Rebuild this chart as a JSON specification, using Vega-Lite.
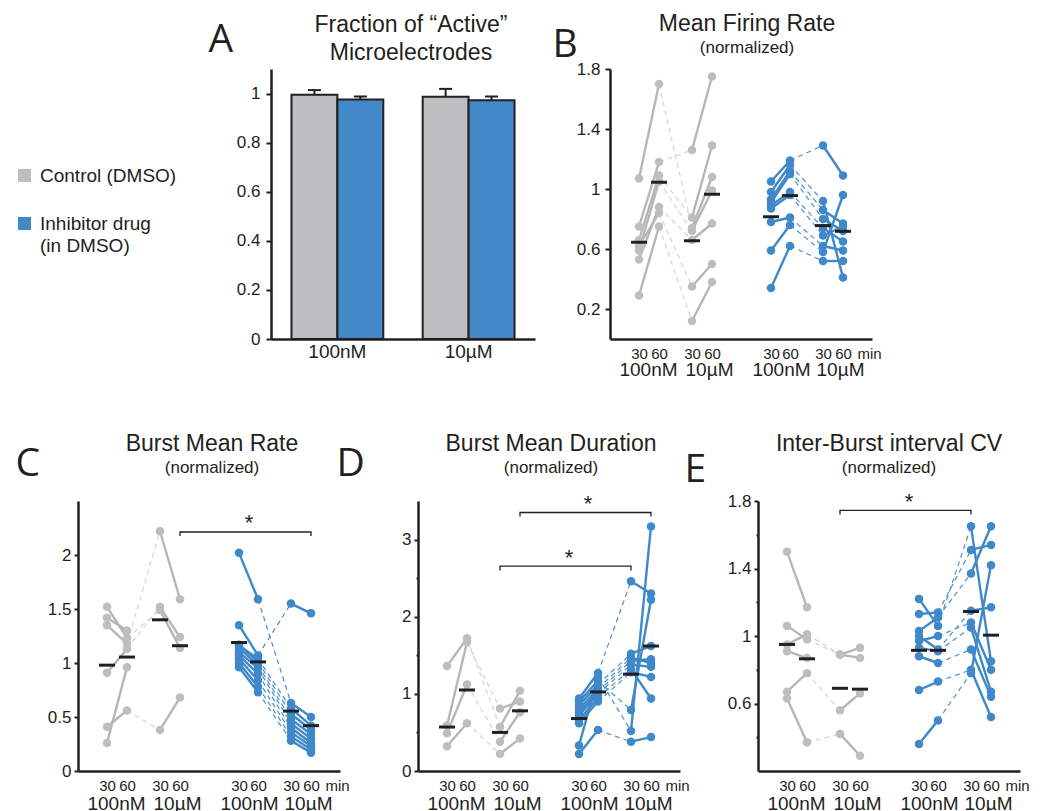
{
 "$schema": "https://vega.github.io/schema/vega-lite/v6.json",
 "background": "white",
 "padding": {"left": 15, "top": 13, "right": 5, "bottom": 0},
 "spacing": 54,
 "config": {
  "view": {"stroke": null},
  "font": "Liberation Sans",
  "style": {"guide-label": {"lineHeight": 22}},
  "axis": {"domainColor": "#231f20", "domainWidth": 2.5, "tickColor": "#231f20", "tickWidth": 2, "labelColor": "#231f20", "labelFont": "Liberation Sans", "grid": false},
  "title": {"font": "Liberation Sans", "fontSize": 23, "fontWeight": "normal", "color": "#231f20", "subtitleFont": "Liberation Sans", "subtitleFontSize": 17, "subtitleColor": "#231f20", "subtitlePadding": 4, "anchor": "middle", "frame": "group"}
 },
 "datasets": {
  "slots": [
   {"k": "c1", "x": 29, "conc": "100nM"}, {"k": "c2", "x": 49, "conc": "100nM"},
   {"k": "c3", "x": 82, "conc": "10µM"}, {"k": "c4", "x": 102, "conc": "10µM"},
   {"k": "i1", "x": 161, "conc": "100nM"}, {"k": "i2", "x": 180, "conc": "100nM"},
   {"k": "i3", "x": 213, "conc": "10µM"}, {"k": "i4", "x": 233, "conc": "10µM"}
  ],
  "units": [
   {"p": "B", "g": "C", "u": 1, "c1": 1.07, "c2": 1.70, "c3": 0.74, "c4": 1.08},
   {"p": "B", "g": "C", "u": 2, "c1": 0.75, "c2": 1.18, "c3": 1.26, "c4": 1.75},
   {"p": "B", "g": "C", "u": 3, "c1": 0.66, "c2": 1.09, "c3": 0.81, "c4": 1.29},
   {"p": "B", "g": "C", "u": 4, "c1": 0.59, "c2": 1.05, "c3": 0.72, "c4": 0.99},
   {"p": "B", "g": "C", "u": 5, "c1": 0.53, "c2": 0.88, "c3": 0.66, "c4": 0.77},
   {"p": "B", "g": "C", "u": 6, "c1": 0.62, "c2": 0.84, "c3": 0.35, "c4": 0.50},
   {"p": "B", "g": "C", "u": 7, "c1": 0.29, "c2": 0.75, "c3": 0.12, "c4": 0.38},
   {"p": "B", "g": "I", "u": 1, "i1": 1.05, "i2": 1.19, "i3": 1.29, "i4": 1.09},
   {"p": "B", "g": "I", "u": 2, "i1": 0.98, "i2": 1.16, "i3": 0.92, "i4": 0.41},
   {"p": "B", "g": "I", "u": 3, "i1": 0.93, "i2": 1.12, "i3": 0.86, "i4": 0.77},
   {"p": "B", "g": "I", "u": 4, "i1": 0.91, "i2": 1.10, "i3": 0.80, "i4": 0.72},
   {"p": "B", "g": "I", "u": 5, "i1": 0.89, "i2": 0.98, "i3": 0.74, "i4": 0.65},
   {"p": "B", "g": "I", "u": 6, "i1": 0.87, "i2": 0.96, "i3": 0.69, "i4": 0.75},
   {"p": "B", "g": "I", "u": 7, "i1": 0.78, "i2": 0.81, "i3": 0.62, "i4": 0.59},
   {"p": "B", "g": "I", "u": 8, "i1": 0.59, "i2": 0.76, "i3": 0.58, "i4": 0.96},
   {"p": "B", "g": "I", "u": 9, "i1": 0.34, "i2": 0.62, "i3": 0.52, "i4": 0.52},
   {"p": "C", "g": "C", "u": 1, "c1": 1.52, "c2": 1.23, "c3": 1.49, "c4": 1.14},
   {"p": "C", "g": "C", "u": 2, "c1": 1.42, "c2": 1.30},
   {"p": "C", "g": "C", "u": 3, "c1": 1.35, "c2": 1.18, "c3": 2.22, "c4": 1.59},
   {"p": "C", "g": "C", "u": 4, "c1": 0.91, "c2": 1.13, "c3": 1.52, "c4": 1.24},
   {"p": "C", "g": "C", "u": 5, "c1": 0.26, "c2": 0.96},
   {"p": "C", "g": "C", "u": 6, "c1": 0.41, "c2": 0.56, "c3": 0.38, "c4": 0.68},
   {"p": "C", "g": "I", "u": 1, "i1": 2.02, "i2": 1.59, "i3": 0.63, "i4": 0.50},
   {"p": "C", "g": "I", "u": 2, "i1": 1.35, "i2": 1.07, "i3": 1.55, "i4": 1.46},
   {"p": "C", "g": "I", "u": 3, "i1": 1.16, "i2": 1.04, "i3": 0.58, "i4": 0.42},
   {"p": "C", "g": "I", "u": 4, "i1": 1.17, "i2": 1.01, "i3": 0.53, "i4": 0.38},
   {"p": "C", "g": "I", "u": 5, "i1": 1.14, "i2": 0.98, "i3": 0.48, "i4": 0.34},
   {"p": "C", "g": "I", "u": 6, "i1": 1.10, "i2": 0.95, "i3": 0.44, "i4": 0.30},
   {"p": "C", "g": "I", "u": 7, "i1": 1.07, "i2": 0.90, "i3": 0.40, "i4": 0.26},
   {"p": "C", "g": "I", "u": 8, "i1": 1.04, "i2": 0.84, "i3": 0.36, "i4": 0.23},
   {"p": "C", "g": "I", "u": 9, "i1": 1.00, "i2": 0.78, "i3": 0.32, "i4": 0.20},
   {"p": "C", "g": "I", "u": 10, "i1": 0.96, "i2": 0.73, "i3": 0.28, "i4": 0.17},
   {"p": "D", "g": "C", "u": 1, "c1": 1.36, "c2": 1.72, "c3": 0.57, "c4": 1.04},
   {"p": "D", "g": "C", "u": 2, "c1": 0.59, "c2": 1.67, "c3": 0.81, "c4": 0.90},
   {"p": "D", "g": "C", "u": 3, "c1": 0.49, "c2": 1.12, "c3": 0.38, "c4": 0.76},
   {"p": "D", "g": "C", "u": 4, "c1": 0.32, "c2": 0.62, "c3": 0.22, "c4": 0.42},
   {"p": "D", "g": "I", "u": 1, "i1": 0.94, "i2": 1.27, "i3": 2.46, "i4": 2.30},
   {"p": "D", "g": "I", "u": 2, "i1": 0.33, "i2": 1.22, "i3": 0.52, "i4": 3.17},
   {"p": "D", "g": "I", "u": 3, "i1": 0.90, "i2": 1.17, "i3": 0.79, "i4": 2.22},
   {"p": "D", "g": "I", "u": 4, "i1": 0.85, "i2": 1.12, "i3": 1.52, "i4": 1.62},
   {"p": "D", "g": "I", "u": 5, "i1": 0.80, "i2": 1.07, "i3": 1.47, "i4": 1.40},
   {"p": "D", "g": "I", "u": 6, "i1": 0.76, "i2": 1.03, "i3": 1.43, "i4": 1.45},
   {"p": "D", "g": "I", "u": 7, "i1": 0.72, "i2": 1.00, "i3": 1.38, "i4": 1.35},
   {"p": "D", "g": "I", "u": 8, "i1": 0.66, "i2": 0.95, "i3": 1.32, "i4": 0.94},
   {"p": "D", "g": "I", "u": 9, "i1": 0.62, "i2": 0.90, "i3": 1.28, "i4": 1.22},
   {"p": "D", "g": "I", "u": 10, "i1": 0.22, "i2": 0.53, "i3": 0.38, "i4": 0.44},
   {"p": "E", "g": "C", "u": 1, "c1": 1.50, "c2": 1.17},
   {"p": "E", "g": "C", "u": 2, "c1": 1.06, "c2": 0.98, "c3": 0.89, "c4": 0.87},
   {"p": "E", "g": "C", "u": 3, "c1": 0.95, "c2": 1.01, "c3": 0.89, "c4": 0.93},
   {"p": "E", "g": "C", "u": 4, "c1": 0.91, "c2": 0.87},
   {"p": "E", "g": "C", "u": 5, "c1": 0.67, "c2": 0.78, "c3": 0.56, "c4": 0.66},
   {"p": "E", "g": "C", "u": 6, "c1": 0.63, "c2": 0.37, "c3": 0.42, "c4": 0.29},
   {"p": "E", "g": "I", "u": 1, "i1": 1.22, "i2": 1.06, "i3": 1.65, "i4": 0.85},
   {"p": "E", "g": "I", "u": 2, "i1": 1.13, "i2": 1.14, "i3": 1.51, "i4": 1.54},
   {"p": "E", "g": "I", "u": 3, "i1": 1.03, "i2": 1.11, "i3": 1.37, "i4": 1.65},
   {"p": "E", "g": "I", "u": 4, "i1": 1.00, "i2": 0.92, "i3": 1.15, "i4": 1.17},
   {"p": "E", "g": "I", "u": 5, "i1": 0.97, "i2": 1.00, "i3": 1.08, "i4": 0.80},
   {"p": "E", "g": "I", "u": 6, "i1": 0.93, "i2": 0.91, "i3": 1.05, "i4": 0.67},
   {"p": "E", "g": "I", "u": 7, "i1": 0.88, "i2": 0.84, "i3": 0.92, "i4": 0.64},
   {"p": "E", "g": "I", "u": 8, "i1": 0.68, "i2": 0.73, "i3": 0.80, "i4": 0.52},
   {"p": "E", "g": "I", "u": 9, "i1": 0.36, "i2": 0.50, "i3": 0.78, "i4": 1.42}
  ],
  "means": [
   {"p": "B", "k": "c1", "v": 0.645}, {"p": "B", "k": "c2", "v": 1.045}, {"p": "B", "k": "c3", "v": 0.655}, {"p": "B", "k": "c4", "v": 0.965},
   {"p": "B", "k": "i1", "v": 0.815}, {"p": "B", "k": "i2", "v": 0.956}, {"p": "B", "k": "i3", "v": 0.756}, {"p": "B", "k": "i4", "v": 0.718},
   {"p": "C", "k": "c1", "v": 0.98}, {"p": "C", "k": "c2", "v": 1.055}, {"p": "C", "k": "c3", "v": 1.40}, {"p": "C", "k": "c4", "v": 1.16},
   {"p": "C", "k": "i1", "v": 1.19}, {"p": "C", "k": "i2", "v": 1.01}, {"p": "C", "k": "i3", "v": 0.555}, {"p": "C", "k": "i4", "v": 0.42},
   {"p": "D", "k": "c1", "v": 0.57}, {"p": "D", "k": "c2", "v": 1.05}, {"p": "D", "k": "c3", "v": 0.50}, {"p": "D", "k": "c4", "v": 0.78},
   {"p": "D", "k": "i1", "v": 0.68}, {"p": "D", "k": "i2", "v": 1.025}, {"p": "D", "k": "i3", "v": 1.255}, {"p": "D", "k": "i4", "v": 1.62},
   {"p": "E", "k": "c1", "v": 0.95}, {"p": "E", "k": "c2", "v": 0.865}, {"p": "E", "k": "c3", "v": 0.69}, {"p": "E", "k": "c4", "v": 0.685},
   {"p": "E", "k": "i1", "v": 0.915}, {"p": "E", "k": "i2", "v": 0.915}, {"p": "E", "k": "i3", "v": 1.145}, {"p": "E", "k": "i4", "v": 1.005}
  ],
  "brackets": [
   {"p": "C", "b": "C1", "i": 0, "x": 102, "v": 2.176}, {"p": "C", "b": "C1", "i": 1, "x": 102, "v": 2.213},
   {"p": "C", "b": "C1", "i": 2, "x": 233, "v": 2.213}, {"p": "C", "b": "C1", "i": 3, "x": 233, "v": 2.176},
   {"p": "D", "b": "D1", "i": 0, "x": 102, "v": 3.30}, {"p": "D", "b": "D1", "i": 1, "x": 102, "v": 3.351},
   {"p": "D", "b": "D1", "i": 2, "x": 233, "v": 3.351}, {"p": "D", "b": "D1", "i": 3, "x": 233, "v": 3.30},
   {"p": "D", "b": "D2", "i": 0, "x": 82, "v": 2.60}, {"p": "D", "b": "D2", "i": 1, "x": 82, "v": 2.655},
   {"p": "D", "b": "D2", "i": 2, "x": 213, "v": 2.655}, {"p": "D", "b": "D2", "i": 3, "x": 213, "v": 2.60},
   {"p": "E", "b": "E1", "i": 0, "x": 82, "v": 1.72}, {"p": "E", "b": "E1", "i": 1, "x": 82, "v": 1.745},
   {"p": "E", "b": "E1", "i": 2, "x": 213, "v": 1.745}, {"p": "E", "b": "E1", "i": 3, "x": 213, "v": 1.72}
  ],
  "stars": [
   {"p": "C", "x": 171, "v": 2.227, "s": "*"},
   {"p": "D", "x": 170, "v": 3.37, "s": "*"},
   {"p": "D", "x": 151, "v": 2.675, "s": "*"},
   {"p": "E", "x": 151, "v": 1.754, "s": "*"}
  ],
  "bars": [
   {"conc": "100nM", "grp": "Control (DMSO)", "v": 0.995, "hi": 1.014},
   {"conc": "100nM", "grp": "Inhibitor drug (in DMSO)", "v": 0.976, "hi": 0.988},
   {"conc": "10µM", "grp": "Control (DMSO)", "v": 0.987, "hi": 1.019},
   {"conc": "10µM", "grp": "Inhibitor drug (in DMSO)", "v": 0.973, "hi": 0.988}
  ]
 },
 "vconcat": [
  {
   "bounds": "flush",
   "spacing": 75,
   "hconcat": [
    {"width": 118, "height": 270, "data": {"values": [{"a": 1}]}, "mark": {"type": "point", "opacity": 0}, "encoding": {}},
    {
     "width": 264, "height": 270,
     "data": {"name": "bars"},
     "title": {"text": ["Fraction of “Active”", "Microelectrodes"], "lineHeight": 28, "offset": -45, "dx": 8},
     "encoding": {
      "x": {"field": "conc", "type": "nominal", "sort": ["100nM", "10µM"], "scale": {"paddingInner": 0.3, "paddingOuter": 0.156},
            "axis": {"title": null, "labelAngle": 0, "ticks": false, "tickSize": 0, "labelFontSize": 19, "labelPadding": 3}},
      "xOffset": {"field": "grp", "type": "nominal", "sort": ["Control (DMSO)", "Inhibitor drug (in DMSO)"], "scale": {"paddingInner": 0, "paddingOuter": 0}}
     },
     "layer": [
      {
       "mark": {"type": "bar", "stroke": "#231f20", "strokeWidth": 2},
       "encoding": {
        "y": {"field": "v", "type": "quantitative", "scale": {"domain": [0, 1.1], "nice": false, "zero": false},
              "axis": {"title": "A", "titleAngle": 0, "titleAlign": "left", "titleBaseline": "alphabetic", "titleX": -63, "titleY": -18,
                       "titleFont": "Open Sans", "titleFontSize": 39, "titleFontWeight": "normal", "titleColor": "#231f20",
                       "values": [0, 0.2, 0.4, 0.6, 0.8, 1], "labelExpr": "format(datum.value, '~g')", "tickSize": 5, "labelPadding": 6, "labelFontSize": 17}},
        "color": {"field": "grp", "type": "nominal", "sort": ["Control (DMSO)", "Inhibitor drug (in DMSO)"],
                  "scale": {"domain": ["Control (DMSO)", "Inhibitor drug (in DMSO)"], "range": ["#bcbec0", "#4389c8"]},
                  "legend": {"title": null, "orient": "none", "legendX": -63, "legendY": 97, "padding": 0, "offset": 0,
                             "symbolType": "square", "symbolSize": 170, "symbolStrokeWidth": 0, "symbolOpacity": 1,
                             "labelFontSize": 19, "labelFont": "Liberation Sans", "labelColor": "#231f20", "labelLimit": 300, "labelOffset": 6, "rowPadding": 28,
                             "labelExpr": "datum.label == 'Inhibitor drug (in DMSO)' ? ['Inhibitor drug', '(in DMSO)'] : datum.label"}}
       }
      },
      {
       "mark": {"type": "rule", "strokeWidth": 2, "color": "#231f20"},
       "encoding": {"y": {"field": "v", "type": "quantitative"}, "y2": {"field": "hi"}}
      },
      {
       "mark": {"type": "tick", "orient": "horizontal", "size": 13, "thickness": 2, "color": "#231f20", "opacity": 1},
       "encoding": {"y": {"field": "hi", "type": "quantitative"}}
      }
     ]
    },
    {
     "width": 262, "height": 270,
     "title": {"text": "Mean Firing Rate", "subtitle": "(normalized)", "offset": -31, "dx": 6},
     "encoding": {
      "x": {"field": "x", "type": "quantitative", "scale": {"domain": [0, 262], "nice": false, "zero": false},
            "axis": {"title": null, "values": [29, 38, 49, 82, 99, 102, 161, 171, 180, 213, 230, 233, 259],
                     "labelExpr": "datum.value == 259 ? 'min' : (datum.value == 38 || datum.value == 171) ? '100nM' : (datum.value == 99 || datum.value == 230) ? '10µM' : (datum.value == 29 || datum.value == 82 || datum.value == 161 || datum.value == 213) ? '30' : '60'",
                     "ticks": false, "tickSize": 0, "labelOverlap": false, "labelFlush": false, "labelBound": false,
                     "labelFontSize": {"condition": {"test": "datum.value == 38 || datum.value == 171 || datum.value == 99 || datum.value == 230", "value": 19}, "value": 15},
                     "labelPadding": {"condition": {"test": "datum.value == 38 || datum.value == 171 || datum.value == 99 || datum.value == 230", "value": 21}, "value": 7}}},
      "y": {"field": "v", "type": "quantitative", "scale": {"domain": [0, 1.8], "nice": false, "zero": false},
            "axis": {"title": "B", "titleAngle": 0, "titleAlign": "left", "titleBaseline": "alphabetic", "titleX": -58, "titleY": -13,
                     "titleFont": "Open Sans", "titleFontSize": 39, "titleFontWeight": "normal", "titleColor": "#231f20",
                     "values": [0.2, 0.6, 1, 1.4, 1.8], "labelExpr": "format(datum.value, '~g')", "tickSize": 5, "labelPadding": 5, "labelFontSize": 17}}
     },
     "layer": [
      {"data": {"name": "units"},
       "transform": [{"filter": "datum.p == 'B'"}, {"fold": ["c1", "c2", "c3", "c4", "i1", "i2", "i3", "i4"], "as": ["k", "v"]}, {"filter": "isValid(datum.v)"},
                     {"filter": "indexof(['c2','c3','i2','i3'], datum.k) >= 0"}, {"lookup": "k", "from": {"data": {"name": "slots"}, "key": "k", "fields": ["x", "conc"]}}],
       "mark": {"type": "line", "strokeWidth": 1.2, "strokeDash": [5, 4]},
       "encoding": {"detail": [{"field": "g", "type": "nominal"}, {"field": "u", "type": "nominal"}],
                    "color": {"condition": {"test": "datum.g == 'C'", "value": "#d3d4d6"}, "value": "#4a8fcf"}}},
      {"data": {"name": "units"},
       "transform": [{"filter": "datum.p == 'B'"}, {"fold": ["c1", "c2", "c3", "c4", "i1", "i2", "i3", "i4"], "as": ["k", "v"]}, {"filter": "isValid(datum.v)"},
                     {"lookup": "k", "from": {"data": {"name": "slots"}, "key": "k", "fields": ["x", "conc"]}}],
       "mark": {"type": "line", "strokeWidth": 2.4},
       "encoding": {"detail": [{"field": "g", "type": "nominal"}, {"field": "u", "type": "nominal"}, {"field": "conc", "type": "nominal"}],
                    "color": {"condition": {"test": "datum.g == 'C'", "value": "#b5b6b8"}, "value": "#3f88c9"}}},
      {"data": {"name": "units"},
       "transform": [{"filter": "datum.p == 'B'"}, {"fold": ["c1", "c2", "c3", "c4", "i1", "i2", "i3", "i4"], "as": ["k", "v"]}, {"filter": "isValid(datum.v)"},
                     {"lookup": "k", "from": {"data": {"name": "slots"}, "key": "k", "fields": ["x", "conc"]}}],
       "mark": {"type": "circle", "size": 72, "opacity": 1},
       "encoding": {"color": {"condition": {"test": "datum.g == 'C'", "value": "#bcbec0"}, "value": "#3f88c9"}}},
      {"data": {"name": "means"},
       "transform": [{"filter": "datum.p == 'B'"}, {"lookup": "k", "from": {"data": {"name": "slots"}, "key": "k", "fields": ["x"]}}],
       "mark": {"type": "tick", "orient": "horizontal", "size": 16, "thickness": 3, "color": "#231f20", "opacity": 1}}
     ]
    }
   ]
  },
  {
   "bounds": "flush",
   "spacing": 78,
   "hconcat": [
    {
     "width": 262, "height": 270,
     "title": {"text": "Burst Mean Rate", "subtitle": "(normalized)", "offset": -32, "dx": 3},
     "encoding": {
      "x": {"field": "x", "type": "quantitative", "scale": {"domain": [0, 262], "nice": false, "zero": false},
            "axis": {"title": null, "values": [29, 38, 49, 82, 99, 102, 161, 171, 180, 213, 230, 233, 259],
                     "labelExpr": "datum.value == 259 ? 'min' : (datum.value == 38 || datum.value == 171) ? '100nM' : (datum.value == 99 || datum.value == 230) ? '10µM' : (datum.value == 29 || datum.value == 82 || datum.value == 161 || datum.value == 213) ? '30' : '60'",
                     "ticks": false, "tickSize": 0, "labelOverlap": false, "labelFlush": false, "labelBound": false,
                     "labelFontSize": {"condition": {"test": "datum.value == 38 || datum.value == 171 || datum.value == 99 || datum.value == 230", "value": 19}, "value": 15},
                     "labelPadding": {"condition": {"test": "datum.value == 38 || datum.value == 171 || datum.value == 99 || datum.value == 230", "value": 23}, "value": 7}}},
      "y": {"field": "v", "type": "quantitative", "scale": {"domain": [0, 2.5], "nice": false, "zero": false},
            "axis": {"title": "C", "titleAngle": 0, "titleAlign": "left", "titleBaseline": "alphabetic", "titleX": -63, "titleY": -26,
                     "titleFont": "Open Sans", "titleFontSize": 39, "titleFontWeight": "normal", "titleColor": "#231f20",
                     "values": [0, 0.5, 1, 1.5, 2], "labelExpr": "format(datum.value, '~g')", "tickSize": 4, "labelPadding": 3, "labelFontSize": 17}}
     },
     "layer": [
      {"data": {"name": "units"},
       "transform": [{"filter": "datum.p == 'C'"}, {"fold": ["c1", "c2", "c3", "c4", "i1", "i2", "i3", "i4"], "as": ["k", "v"]}, {"filter": "isValid(datum.v)"},
                     {"filter": "indexof(['c2','c3','i2','i3'], datum.k) >= 0"}, {"lookup": "k", "from": {"data": {"name": "slots"}, "key": "k", "fields": ["x", "conc"]}}],
       "mark": {"type": "line", "strokeWidth": 1.2, "strokeDash": [5, 4]},
       "encoding": {"detail": [{"field": "g", "type": "nominal"}, {"field": "u", "type": "nominal"}],
                    "color": {"condition": {"test": "datum.g == 'C'", "value": "#d3d4d6"}, "value": "#4a8fcf"}}},
      {"data": {"name": "units"},
       "transform": [{"filter": "datum.p == 'C'"}, {"fold": ["c1", "c2", "c3", "c4", "i1", "i2", "i3", "i4"], "as": ["k", "v"]}, {"filter": "isValid(datum.v)"},
                     {"lookup": "k", "from": {"data": {"name": "slots"}, "key": "k", "fields": ["x", "conc"]}}],
       "mark": {"type": "line", "strokeWidth": 2.4},
       "encoding": {"detail": [{"field": "g", "type": "nominal"}, {"field": "u", "type": "nominal"}, {"field": "conc", "type": "nominal"}],
                    "color": {"condition": {"test": "datum.g == 'C'", "value": "#b5b6b8"}, "value": "#3f88c9"}}},
      {"data": {"name": "units"},
       "transform": [{"filter": "datum.p == 'C'"}, {"fold": ["c1", "c2", "c3", "c4", "i1", "i2", "i3", "i4"], "as": ["k", "v"]}, {"filter": "isValid(datum.v)"},
                     {"lookup": "k", "from": {"data": {"name": "slots"}, "key": "k", "fields": ["x", "conc"]}}],
       "mark": {"type": "circle", "size": 72, "opacity": 1},
       "encoding": {"color": {"condition": {"test": "datum.g == 'C'", "value": "#bcbec0"}, "value": "#3f88c9"}}},
      {"data": {"name": "means"},
       "transform": [{"filter": "datum.p == 'C'"}, {"lookup": "k", "from": {"data": {"name": "slots"}, "key": "k", "fields": ["x"]}}],
       "mark": {"type": "tick", "orient": "horizontal", "size": 16, "thickness": 3, "color": "#231f20", "opacity": 1}},
      {"data": {"name": "brackets"}, "transform": [{"filter": "datum.p == 'C'"}],
       "mark": {"type": "line", "strokeWidth": 1.3, "color": "#231f20"},
       "encoding": {"detail": {"field": "b", "type": "nominal"}, "order": {"field": "i", "type": "quantitative"}}},
      {"data": {"name": "stars"}, "transform": [{"filter": "datum.p == 'C'"}],
       "mark": {"type": "text", "fontSize": 22, "baseline": "alphabetic", "align": "center", "color": "#231f20"},
       "encoding": {"text": {"field": "s", "type": "nominal"}}}
     ]
    },
    {
     "width": 262, "height": 270,
     "title": {"text": "Burst Mean Duration", "subtitle": "(normalized)", "offset": -32, "dx": 2},
     "encoding": {
      "x": {"field": "x", "type": "quantitative", "scale": {"domain": [0, 262], "nice": false, "zero": false},
            "axis": {"title": null, "values": [29, 38, 49, 82, 99, 102, 161, 171, 180, 213, 230, 233, 259],
                     "labelExpr": "datum.value == 259 ? 'min' : (datum.value == 38 || datum.value == 171) ? '100nM' : (datum.value == 99 || datum.value == 230) ? '10µM' : (datum.value == 29 || datum.value == 82 || datum.value == 161 || datum.value == 213) ? '30' : '60'",
                     "ticks": false, "tickSize": 0, "labelOverlap": false, "labelFlush": false, "labelBound": false,
                     "labelFontSize": {"condition": {"test": "datum.value == 38 || datum.value == 171 || datum.value == 99 || datum.value == 230", "value": 19}, "value": 15},
                     "labelPadding": {"condition": {"test": "datum.value == 38 || datum.value == 171 || datum.value == 99 || datum.value == 230", "value": 23}, "value": 7}}},
      "y": {"field": "v", "type": "quantitative", "scale": {"domain": [0, 3.5], "nice": false, "zero": false},
            "axis": {"title": "D", "titleAngle": 0, "titleAlign": "left", "titleBaseline": "alphabetic", "titleX": -82, "titleY": -26,
                     "titleFont": "Open Sans", "titleFontSize": 39, "titleFontWeight": "normal", "titleColor": "#231f20",
                     "values": [0, 0.5, 1, 1.5, 2, 2.5, 3], "labelExpr": "datum.value % 1 == 0 ? format(datum.value, '~g') : ''",
                     "tickSize": {"condition": {"test": "datum.value % 1 != 0", "value": 2}, "value": 4}, "labelPadding": 3, "labelFontSize": 17}}
     },
     "layer": [
      {"data": {"name": "units"},
       "transform": [{"filter": "datum.p == 'D'"}, {"fold": ["c1", "c2", "c3", "c4", "i1", "i2", "i3", "i4"], "as": ["k", "v"]}, {"filter": "isValid(datum.v)"},
                     {"filter": "indexof(['c2','c3','i2','i3'], datum.k) >= 0"}, {"lookup": "k", "from": {"data": {"name": "slots"}, "key": "k", "fields": ["x", "conc"]}}],
       "mark": {"type": "line", "strokeWidth": 1.2, "strokeDash": [5, 4]},
       "encoding": {"detail": [{"field": "g", "type": "nominal"}, {"field": "u", "type": "nominal"}],
                    "color": {"condition": {"test": "datum.g == 'C'", "value": "#d3d4d6"}, "value": "#4a8fcf"}}},
      {"data": {"name": "units"},
       "transform": [{"filter": "datum.p == 'D'"}, {"fold": ["c1", "c2", "c3", "c4", "i1", "i2", "i3", "i4"], "as": ["k", "v"]}, {"filter": "isValid(datum.v)"},
                     {"lookup": "k", "from": {"data": {"name": "slots"}, "key": "k", "fields": ["x", "conc"]}}],
       "mark": {"type": "line", "strokeWidth": 2.4},
       "encoding": {"detail": [{"field": "g", "type": "nominal"}, {"field": "u", "type": "nominal"}, {"field": "conc", "type": "nominal"}],
                    "color": {"condition": {"test": "datum.g == 'C'", "value": "#b5b6b8"}, "value": "#3f88c9"}}},
      {"data": {"name": "units"},
       "transform": [{"filter": "datum.p == 'D'"}, {"fold": ["c1", "c2", "c3", "c4", "i1", "i2", "i3", "i4"], "as": ["k", "v"]}, {"filter": "isValid(datum.v)"},
                     {"lookup": "k", "from": {"data": {"name": "slots"}, "key": "k", "fields": ["x", "conc"]}}],
       "mark": {"type": "circle", "size": 72, "opacity": 1},
       "encoding": {"color": {"condition": {"test": "datum.g == 'C'", "value": "#bcbec0"}, "value": "#3f88c9"}}},
      {"data": {"name": "means"},
       "transform": [{"filter": "datum.p == 'D'"}, {"lookup": "k", "from": {"data": {"name": "slots"}, "key": "k", "fields": ["x"]}}],
       "mark": {"type": "tick", "orient": "horizontal", "size": 16, "thickness": 3, "color": "#231f20", "opacity": 1}},
      {"data": {"name": "brackets"}, "transform": [{"filter": "datum.p == 'D'"}],
       "mark": {"type": "line", "strokeWidth": 1.3, "color": "#231f20"},
       "encoding": {"detail": {"field": "b", "type": "nominal"}, "order": {"field": "i", "type": "quantitative"}}},
      {"data": {"name": "stars"}, "transform": [{"filter": "datum.p == 'D'"}],
       "mark": {"type": "text", "fontSize": 22, "baseline": "alphabetic", "align": "center", "color": "#231f20"},
       "encoding": {"text": {"field": "s", "type": "nominal"}}}
     ]
    },
    {
     "width": 262, "height": 270,
     "title": {"text": "Inter-Burst interval CV", "subtitle": "(normalized)", "offset": -26, "dx": 0},
     "encoding": {
      "x": {"field": "x", "type": "quantitative", "scale": {"domain": [0, 262], "nice": false, "zero": false},
            "axis": {"title": null, "values": [29, 38, 49, 82, 99, 102, 161, 171, 180, 213, 230, 233, 259],
                     "labelExpr": "datum.value == 259 ? 'min' : (datum.value == 38 || datum.value == 171) ? '100nM' : (datum.value == 99 || datum.value == 230) ? '10µM' : (datum.value == 29 || datum.value == 82 || datum.value == 161 || datum.value == 213) ? '30' : '60'",
                     "ticks": false, "tickSize": 0, "labelOverlap": false, "labelFlush": false, "labelBound": false,
                     "labelFontSize": {"condition": {"test": "datum.value == 38 || datum.value == 171 || datum.value == 99 || datum.value == 230", "value": 19}, "value": 15},
                     "labelPadding": {"condition": {"test": "datum.value == 38 || datum.value == 171 || datum.value == 99 || datum.value == 230", "value": 23}, "value": 7}}},
      "y": {"field": "v", "type": "quantitative", "scale": {"domain": [0.2, 1.8], "nice": false, "zero": false},
            "axis": {"title": "E", "titleAngle": 0, "titleAlign": "left", "titleBaseline": "alphabetic", "titleX": -74, "titleY": -20,
                     "titleFont": "Open Sans", "titleFontSize": 39, "titleFontWeight": "normal", "titleColor": "#231f20",
                     "values": [0.4, 0.6, 0.8, 1, 1.2, 1.4, 1.6, 1.8], "labelExpr": "indexof([0.6, 1, 1.4, 1.8], datum.value) >= 0 ? format(datum.value, '~g') : ''",
                     "tickSize": {"condition": {"test": "indexof([0.6, 1, 1.4, 1.8], datum.value) < 0", "value": 2}, "value": 4}, "labelPadding": 3, "labelFontSize": 17}}
     },
     "layer": [
      {"data": {"name": "units"},
       "transform": [{"filter": "datum.p == 'E'"}, {"fold": ["c1", "c2", "c3", "c4", "i1", "i2", "i3", "i4"], "as": ["k", "v"]}, {"filter": "isValid(datum.v)"},
                     {"filter": "indexof(['c2','c3','i2','i3'], datum.k) >= 0"}, {"lookup": "k", "from": {"data": {"name": "slots"}, "key": "k", "fields": ["x", "conc"]}}],
       "mark": {"type": "line", "strokeWidth": 1.2, "strokeDash": [5, 4]},
       "encoding": {"detail": [{"field": "g", "type": "nominal"}, {"field": "u", "type": "nominal"}],
                    "color": {"condition": {"test": "datum.g == 'C'", "value": "#d3d4d6"}, "value": "#4a8fcf"}}},
      {"data": {"name": "units"},
       "transform": [{"filter": "datum.p == 'E'"}, {"fold": ["c1", "c2", "c3", "c4", "i1", "i2", "i3", "i4"], "as": ["k", "v"]}, {"filter": "isValid(datum.v)"},
                     {"lookup": "k", "from": {"data": {"name": "slots"}, "key": "k", "fields": ["x", "conc"]}}],
       "mark": {"type": "line", "strokeWidth": 2.4},
       "encoding": {"detail": [{"field": "g", "type": "nominal"}, {"field": "u", "type": "nominal"}, {"field": "conc", "type": "nominal"}],
                    "color": {"condition": {"test": "datum.g == 'C'", "value": "#b5b6b8"}, "value": "#3f88c9"}}},
      {"data": {"name": "units"},
       "transform": [{"filter": "datum.p == 'E'"}, {"fold": ["c1", "c2", "c3", "c4", "i1", "i2", "i3", "i4"], "as": ["k", "v"]}, {"filter": "isValid(datum.v)"},
                     {"lookup": "k", "from": {"data": {"name": "slots"}, "key": "k", "fields": ["x", "conc"]}}],
       "mark": {"type": "circle", "size": 72, "opacity": 1},
       "encoding": {"color": {"condition": {"test": "datum.g == 'C'", "value": "#bcbec0"}, "value": "#3f88c9"}}},
      {"data": {"name": "means"},
       "transform": [{"filter": "datum.p == 'E'"}, {"lookup": "k", "from": {"data": {"name": "slots"}, "key": "k", "fields": ["x"]}}],
       "mark": {"type": "tick", "orient": "horizontal", "size": 16, "thickness": 3, "color": "#231f20", "opacity": 1}},
      {"data": {"name": "brackets"}, "transform": [{"filter": "datum.p == 'E'"}],
       "mark": {"type": "line", "strokeWidth": 1.3, "color": "#231f20"},
       "encoding": {"detail": {"field": "b", "type": "nominal"}, "order": {"field": "i", "type": "quantitative"}}},
      {"data": {"name": "stars"}, "transform": [{"filter": "datum.p == 'E'"}],
       "mark": {"type": "text", "fontSize": 22, "baseline": "alphabetic", "align": "center", "color": "#231f20"},
       "encoding": {"text": {"field": "s", "type": "nominal"}}}
     ]
    }
   ]
  }
 ]
}
